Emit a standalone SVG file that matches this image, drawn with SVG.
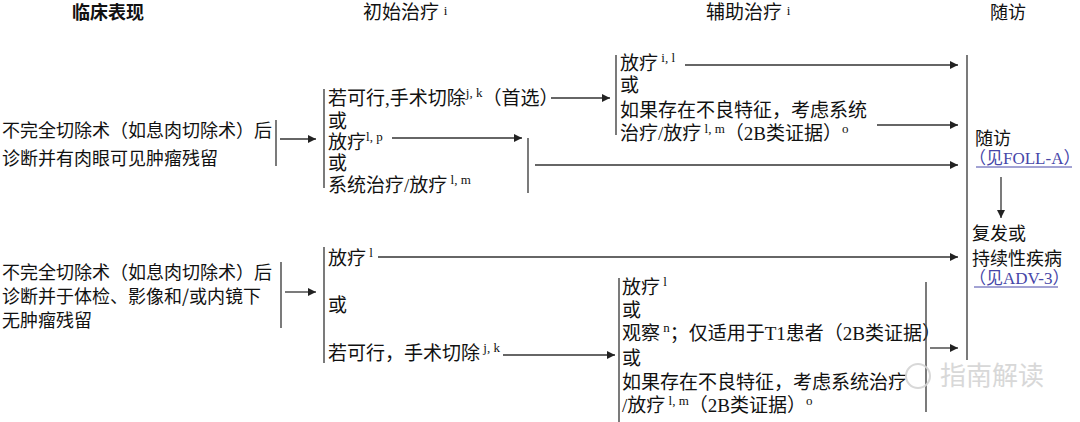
<svg xmlns="http://www.w3.org/2000/svg" width="1080" height="422" viewBox="0 0 1080 422">
<style>
.t{font-family:"Liberation Serif","Noto Sans CJK SC",serif;font-size:19px;fill:#111}
.s{font-family:"Noto Sans CJK SC",sans-serif;font-size:18px;fill:#111}
.h{font-family:"Noto Sans CJK SC",sans-serif;font-size:18px;fill:#111}
.sup{font-family:"Liberation Serif",serif;font-size:13px}
.lk{font-family:"Liberation Serif","Noto Sans CJK SC",serif;font-size:17px;fill:#4646a8}
.ln{stroke:#333;stroke-width:1.3;fill:none}
.ar{stroke:#333;stroke-width:1.3;fill:none;marker-end:url(#ah)}
.wm{font-family:"Noto Sans CJK SC",sans-serif;font-size:26px;fill:#d4d4d4}
</style>
<defs>
<marker id="ah" viewBox="0 0 10 10" refX="10" refY="5" markerWidth="10" markerHeight="8" markerUnits="userSpaceOnUse" orient="auto">
<path d="M0,0 L10,5 L0,10 z" fill="#222"/>
</marker>
</defs>

<g id="headers">
<text class="h" x="72" y="19" font-weight="bold">临床表现</text>
<text class="t" x="363" y="19">初始治疗 <tspan class="sup" dy="-4">i</tspan></text>
<text class="t" x="706" y="19">辅助治疗 <tspan class="sup" dy="-4">i</tspan></text>
<text class="h" x="990" y="19">随访</text>
</g>

<g id="row1-presentation">
<text class="s" x="2" y="137">不完全切除术（如息肉切除术）后</text>
<text class="s" x="2" y="165">诊断并有肉眼可见肿瘤残留</text>
</g>

<g id="row1-primary">
<text class="t" x="328" y="105">若可行,手术切除<tspan class="sup" dy="-8">j, k</tspan><tspan dy="8">（首选）</tspan></text>
<text class="t" x="328" y="128">或</text>
<text class="t" x="328" y="149">放疗<tspan class="sup" dy="-8">l, p</tspan></text>
<text class="t" x="328" y="170">或</text>
<text class="t" x="328" y="192">系统治疗/放疗<tspan class="sup" dy="-8"> l, m</tspan></text>
</g>

<g id="row1-adjuvant">
<text class="t" x="620" y="70">放疗<tspan class="sup" dy="-8"> i, l</tspan></text>
<text class="t" x="620" y="92">或</text>
<text class="t" x="620" y="117">如果存在不良特征，考虑系统</text>
<text class="t" x="620" y="140">治疗/放疗<tspan class="sup" dy="-7"> l, m</tspan><tspan dy="7">（2B类证据）</tspan><tspan class="sup" dy="-7">o</tspan></text>
</g>

<g id="followup">
<text class="h" x="975" y="145">随访</text>
<text class="lk" x="969" y="164">（见FOLL-A）</text>
<line x1="976" y1="167" x2="1072" y2="167" stroke="#4646a8" stroke-width="1"/>
<text class="h" x="972" y="240">复发或</text>
<text class="h" x="972" y="265">持续性疾病</text>
<text class="lk" x="969" y="284">（见ADV-3）</text>
<line x1="974" y1="287" x2="1058" y2="287" stroke="#4646a8" stroke-width="1"/>
</g>

<g id="row2-presentation">
<text class="s" x="2" y="279">不完全切除术（如息肉切除术）后</text>
<text class="s" x="2" y="303">诊断并于体检、影像和/或内镜下</text>
<text class="s" x="2" y="327">无肿瘤残留</text>
</g>

<g id="row2-primary">
<text class="t" x="328" y="265">放疗<tspan class="sup" dy="-8"> l</tspan></text>
<text class="t" x="328" y="312">或</text>
<text class="t" x="328" y="360">若可行，手术切除<tspan class="sup" dy="-8"> j, k</tspan></text>
</g>

<g id="row2-adjuvant">
<text class="t" x="622" y="294">放疗<tspan class="sup" dy="-8"> l</tspan></text>
<text class="t" x="622" y="317">或</text>
<text class="t" x="622" y="340">观察<tspan class="sup" dy="-8"> n</tspan><tspan dy="8">；仅适用于T1患者（2B类证据）</tspan></text>
<text class="t" x="622" y="365">或</text>
<text class="t" x="622" y="389">如果存在不良特征，考虑系统治疗</text>
<text class="t" x="622" y="412">/放疗<tspan class="sup" dy="-7"> l, m</tspan><tspan dy="7">（2B类证据）</tspan><tspan class="sup" dy="-7">o</tspan></text>
</g>

<g id="connectors">
<line class="ln" x1="276" y1="120" x2="276" y2="166"/>
<line class="ln" x1="324" y1="89" x2="324" y2="188"/>
<line class="ln" x1="616" y1="55" x2="616" y2="135"/>
<line class="ln" x1="528" y1="138" x2="528" y2="193"/>
<line class="ln" x1="967" y1="55" x2="967" y2="360"/>
<line class="ln" x1="281" y1="262" x2="281" y2="328"/>
<line class="ln" x1="324" y1="247" x2="324" y2="363"/>
<line class="ln" x1="619" y1="278" x2="619" y2="422"/>
<line class="ln" x1="926" y1="282" x2="926" y2="412"/>
<line class="ar" x1="280" y1="139" x2="316" y2="139"/>
<line class="ar" x1="551" y1="98" x2="610" y2="98"/>
<line class="ar" x1="392" y1="138" x2="522" y2="138"/>
<line class="ar" x1="535" y1="165" x2="958" y2="165"/>
<line class="ar" x1="685" y1="65" x2="958" y2="65"/>
<line class="ar" x1="877" y1="125" x2="958" y2="125"/>
<line class="ar" x1="1001" y1="177" x2="1001" y2="218"/>
<line class="ar" x1="285" y1="292" x2="316" y2="292"/>
<line class="ar" x1="378" y1="257" x2="958" y2="257"/>
<line class="ar" x1="503" y1="355" x2="615" y2="355"/>
<line class="ar" x1="930" y1="348" x2="958" y2="348"/>
</g>

<g id="watermark" opacity="0.9">
<circle cx="918" cy="376" r="12" fill="none" stroke="#d4d4d4" stroke-width="2"/>
<text class="wm" x="940" y="385">指南解读</text>
</g>
</svg>
